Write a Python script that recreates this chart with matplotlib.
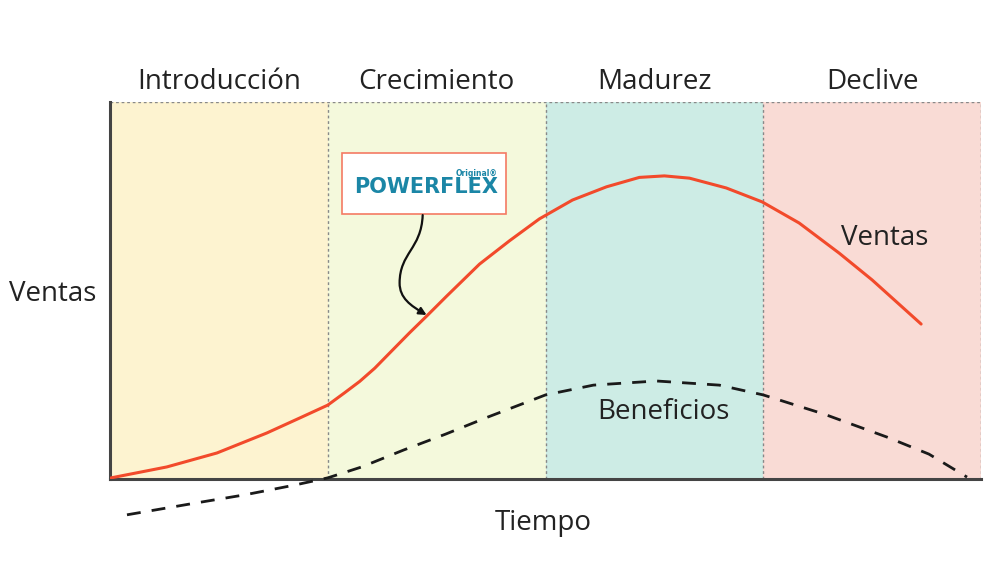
import matplotlib.pyplot as plt
from matplotlib.patches import FancyArrowPatch, Rectangle
from matplotlib.path import Path

plt.rcParams['font.family'] = ['Open Sans', 'DejaVu Sans']

# phases of the product life cycle
phases = ['Introducción', 'Crecimiento', 'Madurez', 'Declive']
phase_colors = ['#fdf3d0', '#f4f9dc', '#cdece5', '#f9dbd5']

# curves (x in phase units, y as fraction of plot height)
ventas_x = [0.005, 0.261, 0.491, 0.720, 0.872, 1.000, 1.078, 1.147, 1.216, 1.284,
            1.376, 1.454, 1.546, 1.697, 1.835, 1.972, 2.124, 2.280, 2.431, 2.546,
            2.661, 2.830, 2.995, 3.165, 3.349, 3.500, 3.725]
ventas_y = [0.003, 0.032, 0.069, 0.122, 0.162, 0.196, 0.229, 0.259, 0.294, 0.334,
            0.388, 0.432, 0.485, 0.570, 0.632, 0.690, 0.740, 0.775, 0.800, 0.804,
            0.798, 0.772, 0.735, 0.679, 0.599, 0.528, 0.411]
benef_x = [0.078, 0.390, 0.619, 0.849, 1.000, 1.156, 1.349, 1.541, 1.734, 2.000,
           2.220, 2.509, 2.798, 3.000, 3.280, 3.569, 3.761, 3.936]
benef_y = [-0.095, -0.064, -0.042, -0.016, 0.003, 0.032, 0.077, 0.119, 0.164, 0.223,
           0.249, 0.260, 0.249, 0.223, 0.172, 0.111, 0.066, 0.005]

fig = plt.figure(figsize=(9.97, 5.62), dpi=100)
ax = fig.add_axes([110 / 997, 1 - 479 / 562, 871 / 997, 377 / 562])
ax.set_xlim(0, 4)
ax.set_ylim(0, 1)
ax.axis('off')

for i, (name, col) in enumerate(zip(phases, phase_colors)):
    ax.add_patch(Rectangle((i, 0), 1, 1, facecolor=col, edgecolor='none', zorder=0))
    ax.text(i + 0.5, 1.053, name, ha='center', va='center', fontsize=20, color='#222222')
    ax.plot([i + 1, i + 1], [0, 1], color='#888888', lw=1, ls=(0, (2, 2)), zorder=1)

ax.plot([0, 4], [1, 1], color='#888888', lw=1, ls=(0, (2, 2)), zorder=1)
ax.plot([0, 0], [0, 1], color='#444444', lw=2.2, zorder=3, clip_on=False)
ax.plot([0, 4], [0, 0], color='#444444', lw=2.2, zorder=3, clip_on=False)

ax.plot(ventas_x, ventas_y, color='#f24a2b', lw=2.2, zorder=4, solid_capstyle='round',
        solid_joinstyle='round')
ax.plot(benef_x, benef_y, color='#1a1a1a', lw=2, ls=(0, (5, 4)), zorder=4, clip_on=False)

ax.text(776 / 218, (479 - 238) / 377, 'Ventas', fontsize=20, color='#222222',
        ha='center', va='center')
ax.text(554 / 218, (479 - 412) / 377, 'Beneficios', fontsize=20, color='#222222',
        ha='center', va='center')
fig.text(53 / 997, 1 - 294 / 562, 'Ventas', fontsize=20, color='#222222',
         ha='center', va='center')
fig.text(543 / 997, 1 - 523 / 562, 'Tiempo', fontsize=20, color='#222222',
         ha='center', va='center')

# logo box
ax.add_patch(Rectangle((232 / 218, (479 - 214) / 377), 164 / 218, 61 / 377,
                       facecolor='white', edgecolor='#f47a63', lw=1.2, zorder=5))
ax.text(316 / 218, (479 - 187) / 377, 'POWERFLEX', fontsize=15, fontweight='bold',
        family='DejaVu Sans', color='#1b86a6', ha='center', va='center', zorder=6)
ax.text(388 / 218, (479 - 173) / 377, 'Original®', fontsize=5.5, fontweight='bold',
        family='DejaVu Sans', color='#1b86a6', ha='right', va='center', zorder=6)

# curved arrow to the sales curve
arrow_path = Path([(1.436, 0.70), (1.43, 0.61), (1.33, 0.60), (1.33, 0.52),
                   (1.33, 0.48), (1.38, 0.46), (1.454, 0.435)],
                  [Path.MOVETO, Path.CURVE4, Path.CURVE4, Path.CURVE4,
                   Path.CURVE4, Path.CURVE4, Path.CURVE4])
ax.add_patch(FancyArrowPatch(path=arrow_path, arrowstyle='-|>', mutation_scale=11,
                             color='#111111', lw=1.6, zorder=6))

fig.savefig('out.png', dpi=100)
